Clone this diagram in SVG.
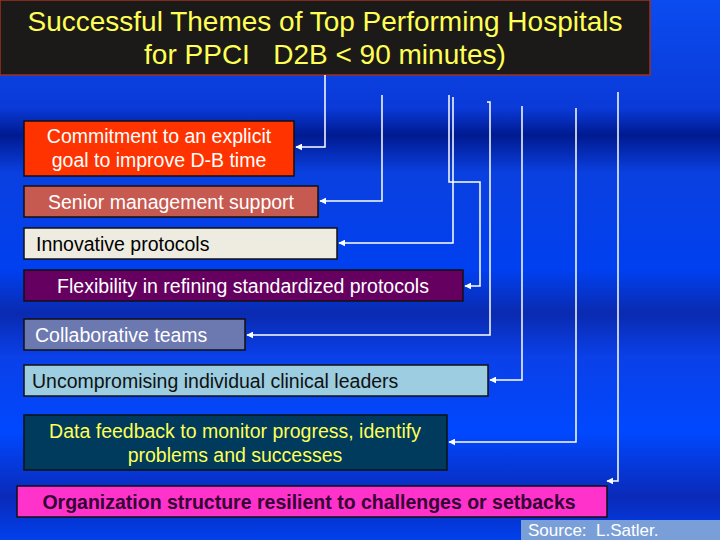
<svg xmlns="http://www.w3.org/2000/svg" width="720" height="540" viewBox="0 0 720 540">
<defs>
<linearGradient id="bg" x1="0" y1="0" x2="0" y2="1">
<stop offset="0" stop-color="#0a4cf0"/>
<stop offset="0.2" stop-color="#0a3ad8"/>
<stop offset="0.25" stop-color="#001a90"/>
<stop offset="0.32" stop-color="#0a40e0"/>
<stop offset="0.5" stop-color="#0040f0"/>
<stop offset="0.58" stop-color="#0a2ab0"/>
<stop offset="0.66" stop-color="#0a40e8"/>
<stop offset="0.8" stop-color="#0048ff"/>
<stop offset="0.92" stop-color="#0a2ab8"/>
<stop offset="1" stop-color="#0040ee"/>
</linearGradient>
<marker id="ar" viewBox="0 0 10 10" refX="9" refY="5" markerWidth="7" markerHeight="7" orient="auto-start-reverse" markerUnits="userSpaceOnUse"><path d="M0,0 L10,5 L0,10 z" fill="#fff"/></marker>
</defs>
<style>
.b{stroke:#111;stroke-width:1.5}
.t{font-family:"Liberation Sans",Arial,sans-serif;font-size:19.5px}
.h{font-family:"Liberation Sans",Arial,sans-serif;font-size:28px;white-space:pre}
.c path{fill:none;stroke:#fff;stroke-width:1.5;marker-end:url(#ar)}
</style>
<rect width="720" height="540" fill="url(#bg)"/>
<g id="title"><rect x="0" y="0" width="650" height="75" fill="#1c1a18" stroke="#a03020" stroke-width="1.5"/>
<text x="325" y="31" text-anchor="middle" class="h" fill="#ffff55">Successful Themes of Top Performing Hospitals</text>
<text x="325" y="64" text-anchor="middle" class="h" fill="#ffff55" xml:space="preserve">for PPCI   D2B &lt; 90 minutes)</text></g>
<g class="c">
<path d="M325,75 V147 H296"/>
<path d="M382,95 V201 H320"/>
<path d="M449,95 V182 H480 V286 H465"/>
<path d="M453,97 V243 H339"/>
<path d="M487,102 H490 V335 H247"/>
<path d="M522,106 V380 H490"/>
<path d="M576,108 V442 H449"/>
<path d="M618,92 V481 H607"/>
</g>
<g id="n1"><rect class="b" x="24" y="121" width="270" height="55" fill="#ff3300"/><text class="t" x="159" y="143" text-anchor="middle" fill="#fff">Commitment to an explicit</text><text class="t" x="159" y="167" text-anchor="middle" fill="#fff">goal to improve D-B time</text></g>
<g id="n2"><rect class="b" x="24" y="186" width="294" height="31" fill="#c65a50"/><text class="t" x="171" y="209" text-anchor="middle" fill="#fff">Senior management support</text></g>
<g id="n3"><rect class="b" x="24" y="228" width="313" height="31" fill="#eeece1" stroke="#6a8ac8"/><text class="t" x="36" y="251" fill="#000">Innovative protocols</text></g>
<g id="n4"><rect class="b" x="24" y="270" width="439" height="31" fill="#660060"/><text class="t" x="243" y="293" text-anchor="middle" fill="#fff">Flexibility in refining standardized protocols</text></g>
<g id="n5"><rect class="b" x="24" y="319" width="221" height="31" fill="#6c78b0"/><text class="t" x="35" y="342" fill="#fff">Collaborative teams</text></g>
<g id="n6"><rect class="b" x="24" y="365" width="464" height="31" fill="#9ccde0"/><text class="t" x="32" y="388" fill="#111">Uncompromising individual clinical leaders</text></g>
<g id="n7"><rect class="b" x="24" y="415" width="423" height="55" fill="#003a5c"/><text class="t" x="235" y="438" text-anchor="middle" fill="#ffff55">Data feedback to monitor progress, identify</text><text class="t" x="235" y="462" text-anchor="middle" fill="#ffff55">problems and successes</text></g>
<g id="n8"><rect class="b" x="17" y="486" width="590" height="31" fill="#ff33cc"/><text class="t" x="309" y="509" text-anchor="middle" fill="#330033" font-weight="bold">Organization structure resilient to challenges or setbacks</text></g>
<g id="src"><rect x="521" y="520" width="199" height="20" fill="#7a9fd8"/><text class="t" x="528" y="536" fill="#fff" style="font-size:17px" xml:space="preserve">Source:  L.Satler.</text></g>
</svg>
